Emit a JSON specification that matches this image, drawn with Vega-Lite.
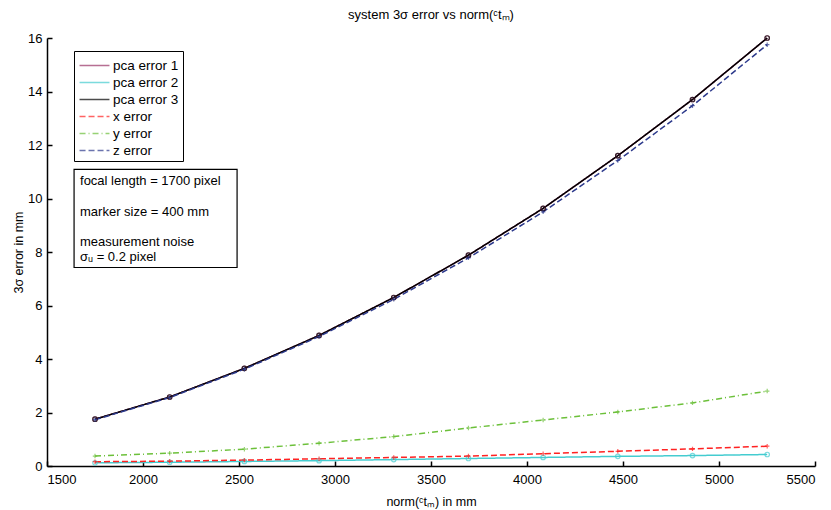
{
  "$schema": "https://vega.github.io/schema/vega-lite/v6.json",
  "autosize": "none",
  "width": 768,
  "height": 428,
  "padding": {"left": 47, "top": 38, "right": 16, "bottom": 44},
  "background": "white",
  "config": {
    "font": "Liberation Sans",
    "view": {"stroke": null},
    "axis": {"domainColor": "black", "domainWidth": 1.5, "tickColor": "black", "tickWidth": 1.5, "labelColor": "black", "titleColor": "black", "labelFontSize": 13, "titleFontSize": 12.5, "titleFontWeight": "normal", "grid": false, "tickSize": -5},
    "legend": {"labelFontSize": 13.5, "labelColor": "black"}
  },
  "title": {"text": "system 3σ error vs norm(ᶜtₘ)", "fontSize": 13, "fontWeight": "normal", "color": "black", "anchor": "middle", "offset": 10},
  "layer": [
    {
      "data": {"name": "errs"},
      "mark": {"type": "line", "strokeWidth": 1.5},
      "encoding": {
        "x": {"field": "d", "type": "quantitative", "scale": {"domain": [1500, 5500], "nice": false, "zero": false}, "axis": {"values": [1500, 2000, 2500, 3000, 3500, 4000, 4500, 5000, 5500], "format": "d", "title": "norm(ᶜtₘ) in mm", "titlePadding": 9, "labelPadding": 12}},
        "y": {"field": "err", "type": "quantitative", "scale": {"domain": [0, 16], "nice": false}, "axis": {"values": [0, 2, 4, 6, 8, 10, 12, 14, 16], "format": "d", "title": "3σ error in mm", "titlePadding": 2, "labelPadding": 10}},
        "color": {"field": "series", "type": "nominal", "scale": {"domain": ["pca error 1", "pca error 2", "pca error 3", "x error", "y error", "z error"], "range": ["#993366", "#44CCD0", "#000000", "#FF2222", "#6CC03A", "#2D3A8C"]},
          "legend": {"title": null, "orient": "none", "legendX": 27, "legendY": 13, "symbolType": "M-1.6,0H1.6", "symbolSize": 350, "symbolStrokeWidth": 1.5, "symbolOffset": 6, "strokeColor": "black", "fillColor": "white", "padding": 4, "rowPadding": 0, "labelOffset": 8}},
        "strokeDash": {"field": "series", "type": "nominal", "scale": {"domain": ["pca error 1", "pca error 2", "pca error 3", "x error", "y error", "z error"], "range": [[1, 0], [1, 0], [1, 0], [6, 3], [6, 3, 1, 3], [6, 3]]}, "legend": {"title": null, "orient": "none", "legendX": 27, "legendY": 13, "symbolType": "M-1.6,0H1.6", "symbolSize": 350, "rowPadding": 0}}
      }
    },
    {
      "data": {"name": "errs"},
      "transform": [{"filter": {"field": "series", "oneOf": ["pca error 1", "pca error 2", "pca error 3"]}}],
      "mark": {"type": "point", "shape": "circle", "filled": false, "strokeWidth": 1.2, "size": 20},
      "encoding": {
        "x": {"field": "d", "type": "quantitative"},
        "y": {"field": "err", "type": "quantitative"},
        "color": {"field": "series", "type": "nominal"}
      }
    },
    {
      "data": {"name": "errs"},
      "transform": [{"filter": {"field": "series", "oneOf": ["x error", "y error", "z error"]}}],
      "mark": {"type": "point", "shape": "M-1,0H1M0,-1V1", "filled": false, "strokeWidth": 1.2, "size": 20},
      "encoding": {
        "x": {"field": "d", "type": "quantitative"},
        "y": {"field": "err", "type": "quantitative"},
        "color": {"field": "series", "type": "nominal"}
      }
    },
    {
      "data": {"values": [{}]},
      "mark": {"type": "rect", "fill": "white", "stroke": "black", "strokeWidth": 1.2},
      "encoding": {"x": {"datum": 1641}, "x2": {"datum": 2490}, "y": {"datum": 11.09}, "y2": {"datum": 7.42}}
    },
    {
      "data": {"values": [{}]},
      "mark": {"type": "text", "align": "left", "baseline": "middle", "fontSize": 13, "color": "black", "text": "focal length = 1700 pixel"},
      "encoding": {"x": {"datum": 1672}, "y": {"datum": 10.64}}
    },
    {
      "data": {"values": [{}]},
      "mark": {"type": "text", "align": "left", "baseline": "middle", "fontSize": 13, "color": "black", "text": "marker size = 400 mm"},
      "encoding": {"x": {"datum": 1672}, "y": {"datum": 9.51}}
    },
    {
      "data": {"values": [{}]},
      "mark": {"type": "text", "align": "left", "baseline": "middle", "fontSize": 13, "color": "black", "text": "measurement noise"},
      "encoding": {"x": {"datum": 1672}, "y": {"datum": 8.39}}
    },
    {
      "data": {"values": [{}]},
      "mark": {"type": "text", "align": "left", "baseline": "middle", "fontSize": 13, "color": "black", "text": "σᵤ = 0.2 pixel"},
      "encoding": {"x": {"datum": 1672}, "y": {"datum": 7.83}}
    }
  ],
  "datasets": {"errs": [
    {"d": 1750, "series": "pca error 1", "err": 1.75}, {"d": 2139, "series": "pca error 1", "err": 2.58}, {"d": 2528, "series": "pca error 1", "err": 3.65}, {"d": 2917, "series": "pca error 1", "err": 4.88}, {"d": 3306, "series": "pca error 1", "err": 6.3}, {"d": 3695, "series": "pca error 1", "err": 7.88}, {"d": 4084, "series": "pca error 1", "err": 9.63}, {"d": 4473, "series": "pca error 1", "err": 11.6}, {"d": 4862, "series": "pca error 1", "err": 13.7}, {"d": 5251, "series": "pca error 1", "err": 16.0},
    {"d": 1750, "series": "pca error 2", "err": 0.12}, {"d": 2139, "series": "pca error 2", "err": 0.14}, {"d": 2528, "series": "pca error 2", "err": 0.17}, {"d": 2917, "series": "pca error 2", "err": 0.2}, {"d": 3306, "series": "pca error 2", "err": 0.24}, {"d": 3695, "series": "pca error 2", "err": 0.28}, {"d": 4084, "series": "pca error 2", "err": 0.32}, {"d": 4473, "series": "pca error 2", "err": 0.36}, {"d": 4862, "series": "pca error 2", "err": 0.39}, {"d": 5251, "series": "pca error 2", "err": 0.43},
    {"d": 1750, "series": "pca error 3", "err": 1.75}, {"d": 2139, "series": "pca error 3", "err": 2.58}, {"d": 2528, "series": "pca error 3", "err": 3.65}, {"d": 2917, "series": "pca error 3", "err": 4.88}, {"d": 3306, "series": "pca error 3", "err": 6.3}, {"d": 3695, "series": "pca error 3", "err": 7.88}, {"d": 4084, "series": "pca error 3", "err": 9.63}, {"d": 4473, "series": "pca error 3", "err": 11.6}, {"d": 4862, "series": "pca error 3", "err": 13.7}, {"d": 5251, "series": "pca error 3", "err": 16.0},
    {"d": 1750, "series": "x error", "err": 0.16}, {"d": 2139, "series": "x error", "err": 0.18}, {"d": 2528, "series": "x error", "err": 0.22}, {"d": 2917, "series": "x error", "err": 0.27}, {"d": 3306, "series": "x error", "err": 0.32}, {"d": 3695, "series": "x error", "err": 0.37}, {"d": 4084, "series": "x error", "err": 0.46}, {"d": 4473, "series": "x error", "err": 0.55}, {"d": 4862, "series": "x error", "err": 0.64}, {"d": 5251, "series": "x error", "err": 0.74},
    {"d": 1750, "series": "y error", "err": 0.37}, {"d": 2139, "series": "y error", "err": 0.48}, {"d": 2528, "series": "y error", "err": 0.63}, {"d": 2917, "series": "y error", "err": 0.85}, {"d": 3306, "series": "y error", "err": 1.1}, {"d": 3695, "series": "y error", "err": 1.42}, {"d": 4084, "series": "y error", "err": 1.72}, {"d": 4473, "series": "y error", "err": 2.02}, {"d": 4862, "series": "y error", "err": 2.36}, {"d": 5251, "series": "y error", "err": 2.8},
    {"d": 1750, "series": "z error", "err": 1.73}, {"d": 2139, "series": "z error", "err": 2.56}, {"d": 2528, "series": "z error", "err": 3.62}, {"d": 2917, "series": "z error", "err": 4.84}, {"d": 3306, "series": "z error", "err": 6.23}, {"d": 3695, "series": "z error", "err": 7.78}, {"d": 4084, "series": "z error", "err": 9.5}, {"d": 4473, "series": "z error", "err": 11.42}, {"d": 4862, "series": "z error", "err": 13.47}, {"d": 5251, "series": "z error", "err": 15.75}
  ]}
}
